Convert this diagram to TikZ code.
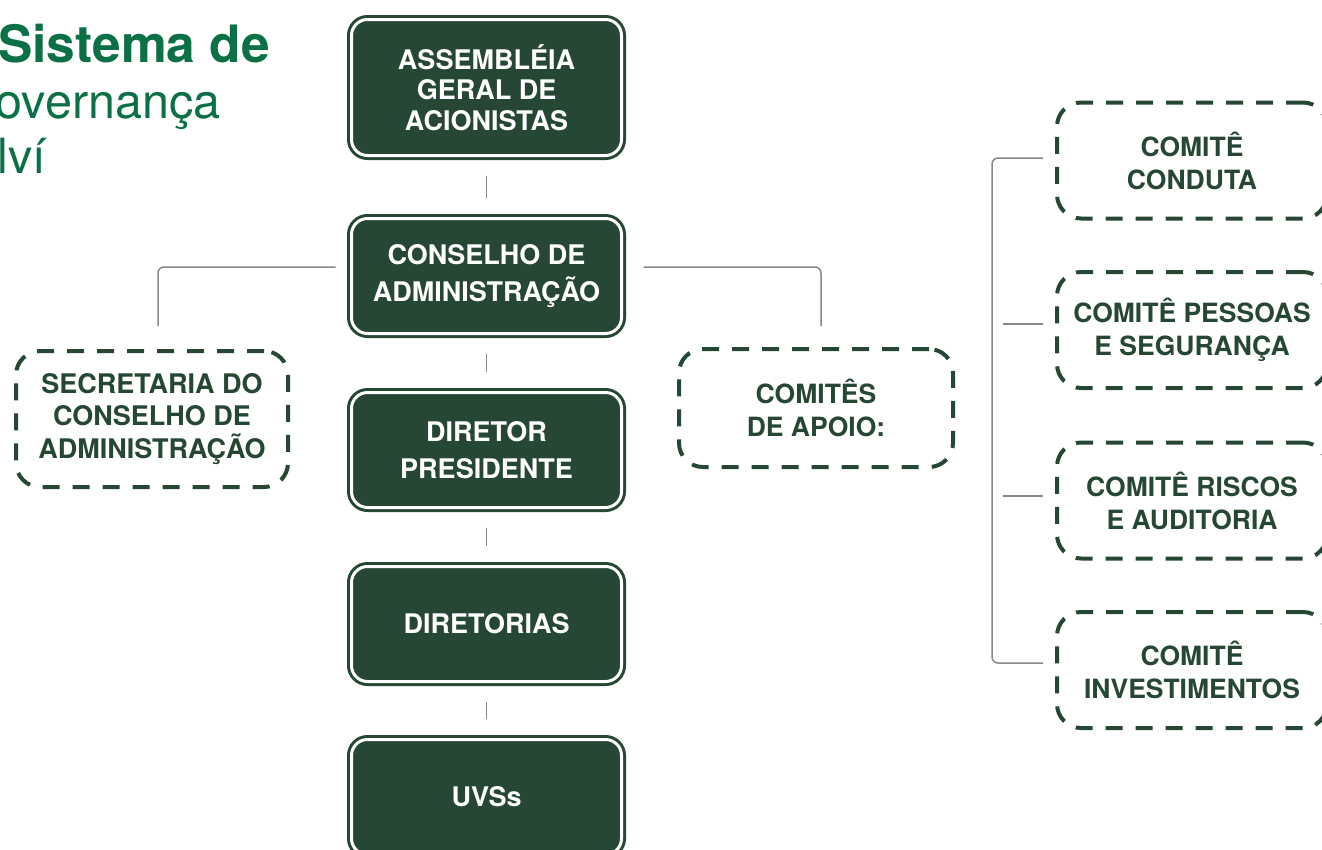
\documentclass[tikz,border=0pt]{standalone}
\usepackage{fontspec}
\setmainfont{TeX Gyre Heros}
\usetikzlibrary{positioning}
\definecolor{dkgreen}{RGB}{38,71,51}
\definecolor{ttlgreen}{RGB}{12,112,70}
\definecolor{lnkgray}{RGB}{136,136,136}

\begin{document}
\begin{tikzpicture}[x=1pt,y=-1pt,
		darkbox/.style={draw=dkgreen, double=white, double distance=3pt, line width=3pt, fill=dkgreen, rounded corners=16pt, minimum width=270pt, minimum height=115pt, inner sep=0pt, outer sep=0pt, text=white, align=center, font=\bfseries\fontsize{27}{37}\selectfont},
		dashbox/.style={draw=dkgreen, line width=4pt, dash pattern=on 17pt off 13pt, rounded corners=24pt, minimum width=270pt, minimum height=116pt, inner sep=0pt, outer sep=0pt, text=dkgreen, align=center, font=\bfseries\fontsize{26.5}{33}\selectfont},
		link/.style={draw=lnkgray, line width=1.5pt, rounded corners=6pt},
		ttl/.style={text=ttlgreen, anchor=base west, inner sep=0pt}]
			\useasboundingbox (0,0) rectangle (1322,849);
			\clip (0,0) rectangle (1322,849);
			\node[ttl, font=\bfseries\fontsize{51.5}{51.5}\selectfont] (ttl1) at (-2,62){Sistema de};
			\node[ttl, font=\fontsize{48.5}{48.5}\selectfont] (ttl2) at (-42,118){Governança};
			\node[ttl, font=\fontsize{48.5}{48.5}\selectfont] (ttl3) at (-62,173){Solví};
			\node[darkbox, minimum height=136pt, font=\bfseries\fontsize{27}{30.5}\selectfont] (agc) at (486.5,87.5){ASSEMBLÉIA\\GERAL DE\\ACIONISTAS};
			\node[darkbox, below=63pt of agc] (cons){CONSELHO DE\\ADMINISTRAÇÃO};
			\node[darkbox, below=59pt of cons] (dirp){DIRETOR\\PRESIDENTE};
			\node[darkbox, below=59pt of dirp] (dirs){DIRETORIAS};
			\node[darkbox, below=58pt of dirs] (uvs){UVSs};
			\node[dashbox, minimum width=272pt, minimum height=136pt, font=\bfseries\fontsize{27}{32.5}\selectfont] (secr) at (152,419){SECRETARIA DO\\CONSELHO DE\\ADMINISTRAÇÃO};
			\node[dashbox, minimum width=274pt, minimum height=118pt] (apoio) at (816,408){COMITÊS\\DE APOIO:};
			\node[dashbox] (cond) at (1192,160.5){COMITÊ\\CONDUTA};
			\node[dashbox] (pess) at (1192,330){COMITÊ PESSOAS\\E SEGURANÇA};
			\node[dashbox] (risc) at (1192,500.5){COMITÊ RISCOS\\E AUDITORIA};
			\node[dashbox] (inv) at (1192,670){COMITÊ\\INVESTIMENTOS};
			\foreach \a/\b in {agc/cons, cons/dirp, dirp/dirs, dirs/uvs}
				\draw[link, shorten <=20pt, shorten >=21pt] (\a) -- (\b);
			\draw[link] ([xshift=-16pt, yshift=9pt]cons.west) -| ([xshift=6pt, yshift=25pt]secr.north);
			\draw[link] ([xshift=22pt, yshift=9pt]cons.east) -| ([xshift=5pt, yshift=23pt]apoio.north);
			\draw[link] ([xshift=-14pt, yshift=2.5pt]cond.west) -- ++(-51,0) |- ([xshift=-14pt, yshift=7pt]inv.west);
			\draw[link] ([xshift=-14pt, yshift=6pt]pess.west) -- ++(-40,0);
			\draw[link] ([xshift=-14pt, yshift=4.5pt]risc.west) -- ++(-40,0);
		\end{tikzpicture}
\end{document}
